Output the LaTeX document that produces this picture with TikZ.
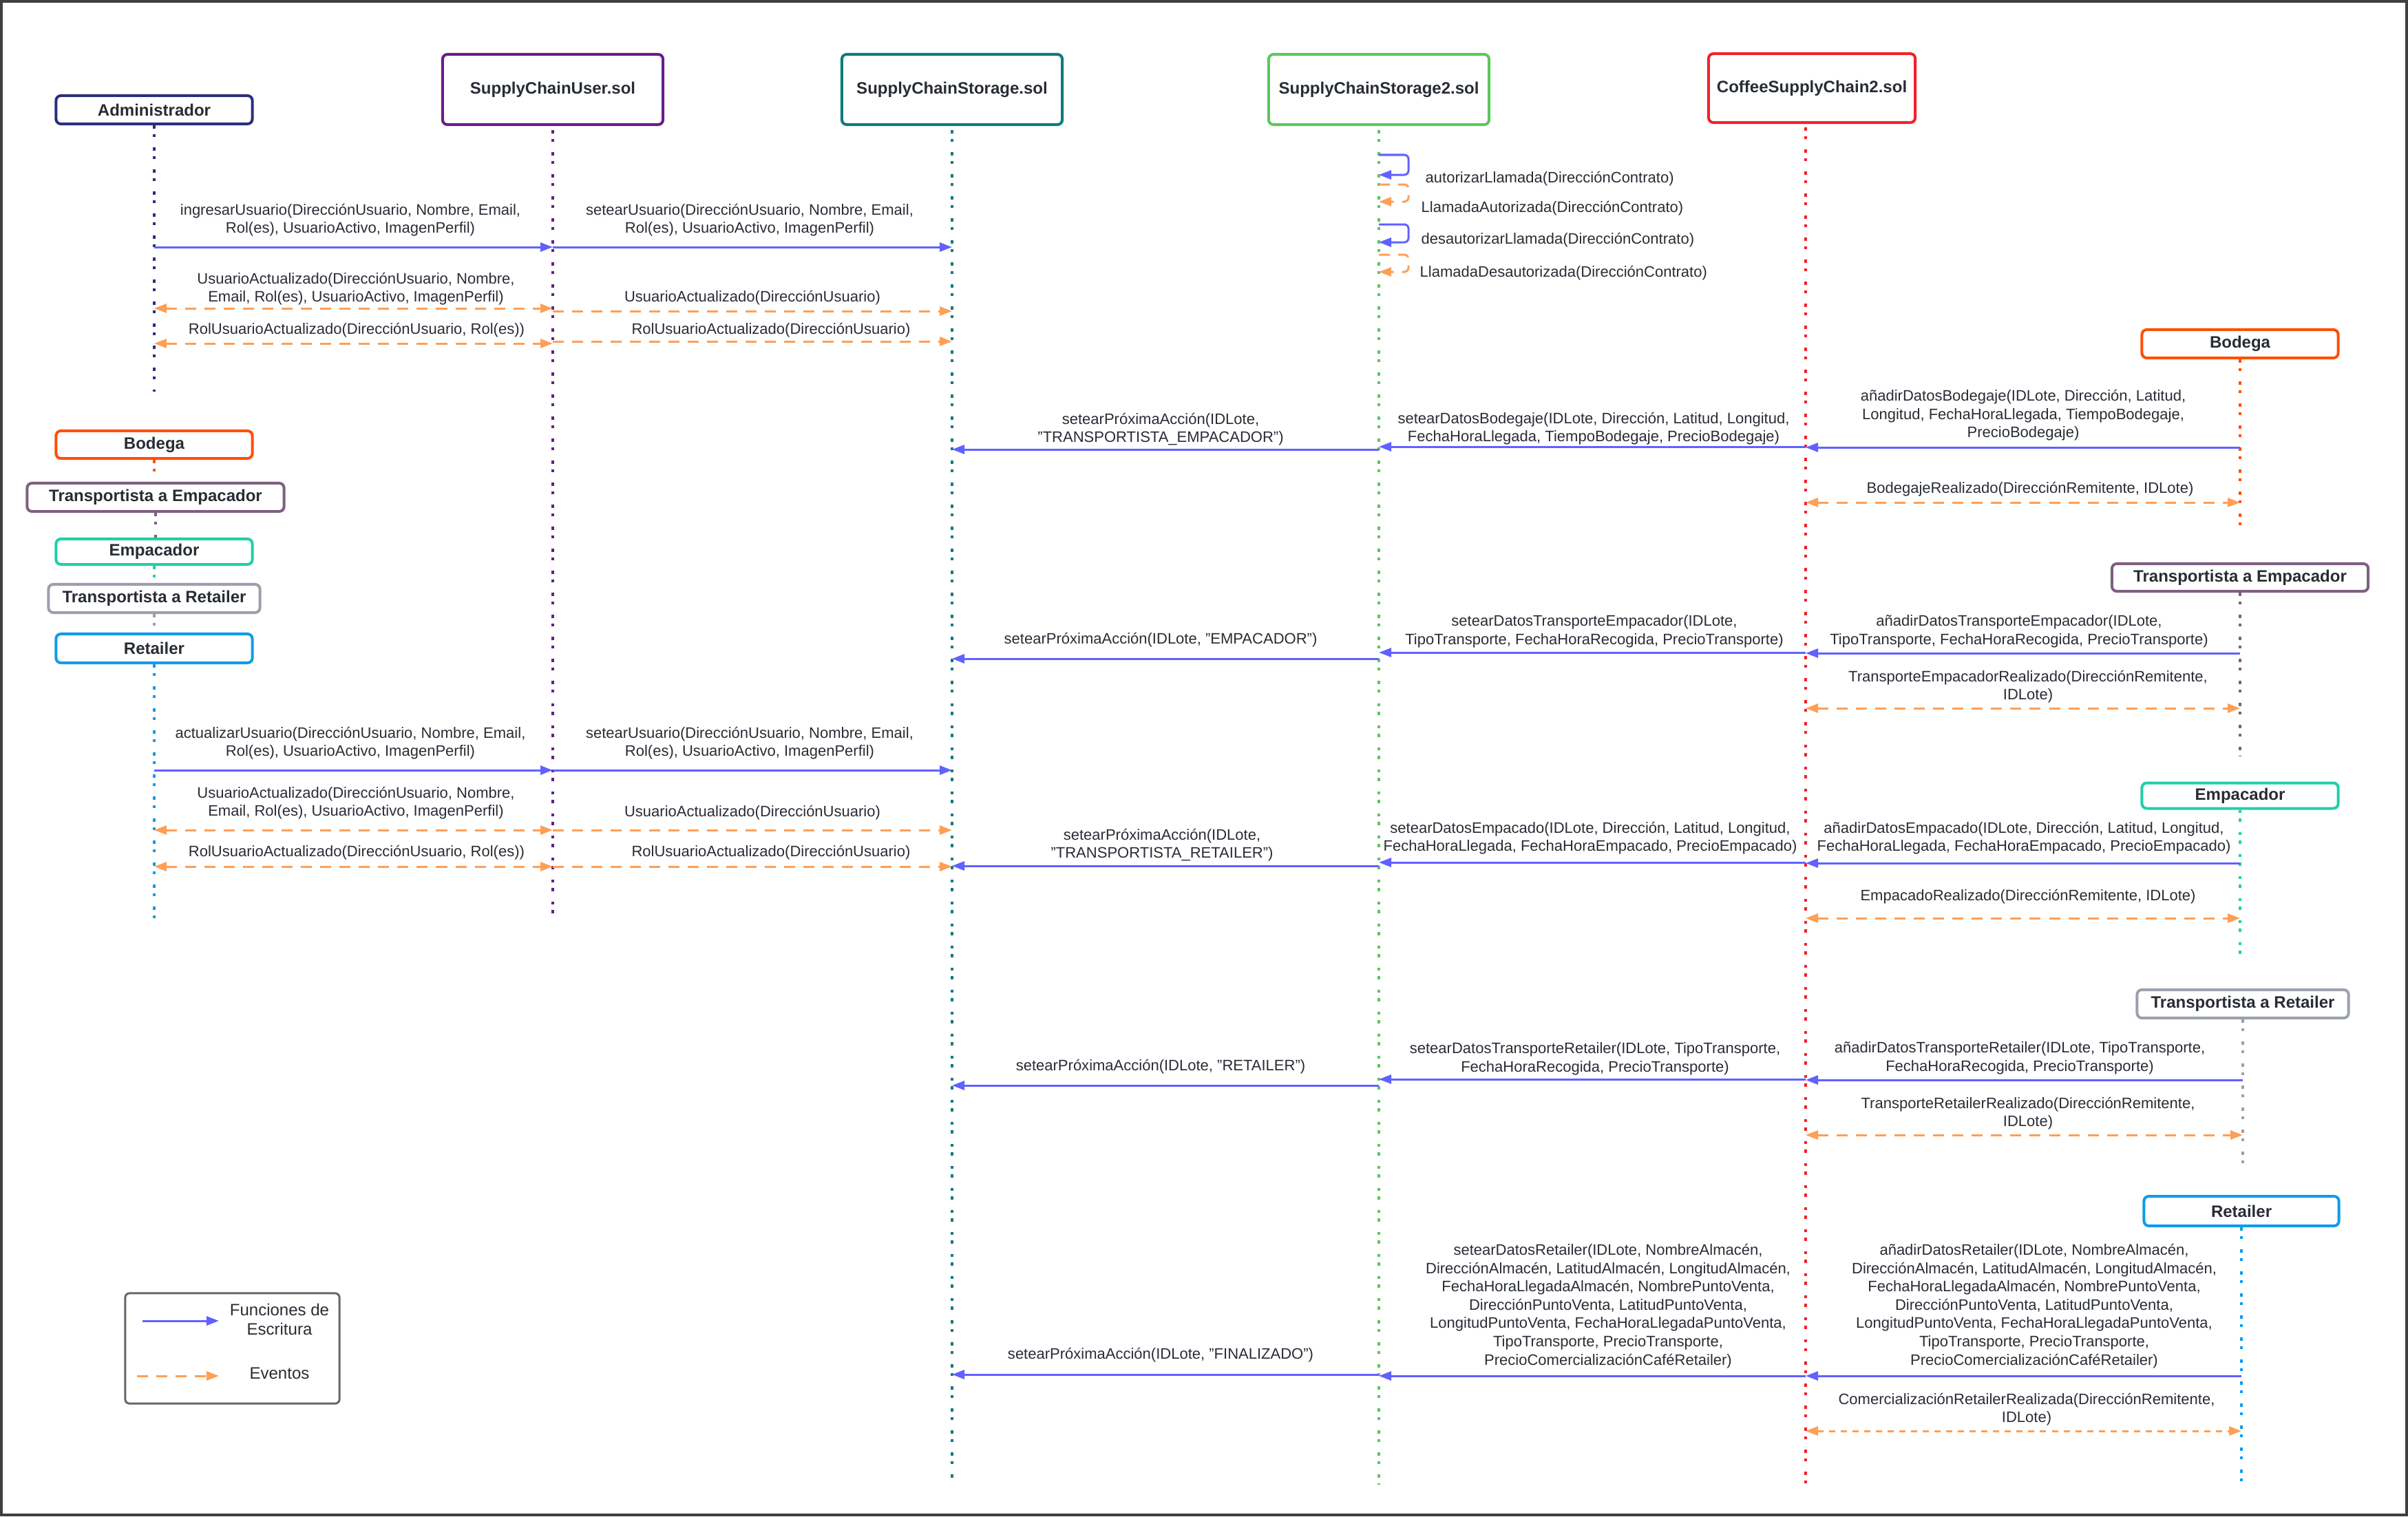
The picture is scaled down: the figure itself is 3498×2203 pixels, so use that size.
\documentclass[tikz,border=0pt]{standalone}
\usepackage{fontspec}
\setmainfont{Liberation Sans}
\usetikzlibrary{arrows.meta}
\definecolor{txt}{HTML}{282C34}
\definecolor{wblue}{HTML}{6161FF}
\definecolor{eorange}{HTML}{FF9F55}
\definecolor{cAdm}{HTML}{2B2F80}
\definecolor{cUsr}{HTML}{6A1B8A}
\definecolor{cSto}{HTML}{0F7B7B}
\definecolor{cStoB}{HTML}{5BC85B}
\definecolor{cCof}{HTML}{F2212B}
\definecolor{cBod}{HTML}{FF4F05}
\definecolor{cTE}{HTML}{7E6080}
\definecolor{cEmp}{HTML}{20CFA8}
\definecolor{cTR}{HTML}{9BA1AB}
\definecolor{cRet}{HTML}{0E9CE8}
\definecolor{frameC}{HTML}{3F3F3F}
\definecolor{legC}{HTML}{666666}
\newcommand\lblfont{\fontsize{6.26pt}{7.55pt}\selectfont}
\newcommand\hdrfont{\fontsize{6.83pt}{8pt}\selectfont\bfseries}
\newcommand\legfont{\fontsize{6.83pt}{7.97pt}\selectfont}
\tikzset{
  lbl/.style={font=\lblfont, text=txt, align=center, inner sep=0pt, yshift=-0.025cm},
  actor/.style={draw=#1, line width=0.04cm, rounded corners=0.07cm, fill=white, inner sep=0pt, font=\hdrfont, text=txt},
  life/.style={draw=#1, line width=0.035cm, dash pattern=on 0.045cm off 0.08cm on 0.045cm off 0.15cm},
  tipA/.tip={Triangle[length=0.18cm,width=0.13cm]},
  wmsg/.style={draw=wblue, line width=0.03cm, -tipA},
  emsg/.style={draw=eorange, line width=0.03cm, dash pattern=on 0.16cm off 0.12cm, -tipA},
  emsgtwo/.style={draw=eorange, line width=0.03cm, dash pattern=on 0.16cm off 0.12cm, tipA-tipA},
  loopw/.style={wmsg, rounded corners=0.06cm},
  loope/.style={emsg, rounded corners=0.06cm},
}
\begin{document}
\begin{tikzpicture}[x=0.01cm,y=-0.01cm]
\useasboundingbox (0,0) rectangle (3498,2203);
\draw[frameC, line width=0.035cm] (2,2) rectangle (3496,2201);

% ---------- actor boxes ----------
\node[actor=cAdm, minimum width=2.85cm, minimum height=0.41cm] (adm) at (224,159.5) {Administrador};
\node[actor=cUsr, minimum width=3.2cm, minimum height=1.02cm] (usr) at (803,130) {SupplyChainUser.sol};
\node[actor=cSto, minimum width=3.2cm, minimum height=1.02cm] (sto) at (1383,130) {SupplyChainStorage.sol};
\node[actor=cStoB, minimum width=3.2cm, minimum height=1.02cm] (stob) at (2003,130) {SupplyChainStorage2.sol};
\node[actor=cCof, minimum width=3.0cm, minimum height=1.0cm] (cof) at (2632,128) {CoffeeSupplyChain2.sol};
\coordinate (cofL) at (2623,185);

\node[actor=cBod, minimum width=2.85cm, minimum height=0.40cm] (bodL) at (224,646) {Bodega};
\node[actor=cTE, minimum width=3.73cm, minimum height=0.41cm] (teL) at (226,722.5) {Transportista a Empacador};
\node[actor=cEmp, minimum width=2.85cm, minimum height=0.37cm] (empL) at (224,801.5) {Empacador};
\node[actor=cTR, minimum width=3.07cm, minimum height=0.41cm] (trL) at (224,869.5) {Transportista a Retailer};
\node[actor=cRet, minimum width=2.85cm, minimum height=0.42cm] (retL) at (224,942) {Retailer};

\node[actor=cBod, minimum width=2.85cm, minimum height=0.41cm] (bodR) at (3254,499.5) {Bodega};
\node[actor=cTE, minimum width=3.72cm, minimum height=0.40cm] (teR) at (3254,839) {Transportista a Empacador};
\node[actor=cEmp, minimum width=2.85cm, minimum height=0.37cm] (empR) at (3254,1156) {Empacador};
\node[actor=cTR, minimum width=3.07cm, minimum height=0.41cm] (trR) at (3258,1458.5) {Transportista a Retailer};
\node[actor=cRet, minimum width=2.83cm, minimum height=0.43cm] (retR) at (3256,1759.5) {Retailer};

% ---------- lifeline ends ----------
\coordinate (admE) at (224,569);
\coordinate (usrE) at (803,1330);
\coordinate (stoE) at (1383,2148);
\coordinate (stobE) at (2003,2157);
\coordinate (cofE) at (2623,2157);
\coordinate (retLE) at (224,1336);
\coordinate (bodRE) at (3254,768);
\coordinate (teRE) at (3254,1098);
\coordinate (empRE) at (3254,1388);
\coordinate (trRE) at (3258,1700);
\coordinate (retRE) at (3256,2158);

\draw[life=cAdm] (adm.south) -- (admE);
\draw[life=cUsr] (usr.south) ++(0,6) -- (usrE);
\draw[life=cSto] (sto.south) ++(0,6) -- (stoE);
\draw[life=cStoB] (stob.south) ++(0,6) -- (stobE);
\draw[life=cCof] (cofL) -- (cofE);
\draw[life=cBod] (bodL.south) -- (teL.north -| bodL.south);
\draw[life=cTE] (teL.south) -- (empL.north -| teL.south);
\draw[life=cEmp] (empL.south) -- (trL.north -| empL.south);
\draw[life=cTR] (trL.south) -- (retL.north -| trL.south);
\draw[life=cRet] (retL.south) -- (retLE);
\draw[life=cBod] (bodR.south) -- (bodRE);
\draw[life=cTE] (teR.south) -- (teRE);
\draw[life=cEmp] (empR.south) -- (empRE);
\draw[life=cTR] (trR.south) -- (trRE);
\draw[life=cRet] (retR.south) -- (retRE);

% ---------- user section (top) ----------
\draw[wmsg] (adm |- 0,359) -- (usr |- 0,359);
\draw[wmsg] (usr |- 0,359) -- (sto |- 0,359);
\draw[emsgtwo] (adm |- 0,448) -- (usr |- 0,448);
\draw[emsg] (usr |- 0,452) -- (sto |- 0,452);
\draw[emsgtwo] (adm |- 0,499) -- (usr |- 0,499);
\draw[emsg] (usr |- 0,496) -- (sto |- 0,496);
\node[lbl] (m1) at (509,317) {ingresarUsuario(DirecciónUsuario, Nombre, Email,\\Rol(es), UsuarioActivo, ImagenPerfil)};
\node[lbl] (m2) at (1089,317) {setearUsuario(DirecciónUsuario, Nombre, Email,\\Rol(es), UsuarioActivo, ImagenPerfil)};
\node[lbl] (m3) at (517,417) {UsuarioActualizado(DirecciónUsuario, Nombre,\\Email, Rol(es), UsuarioActivo, ImagenPerfil)};
\node[lbl] (m4) at (1093,430) {UsuarioActualizado(DirecciónUsuario)};
\node[lbl] (m5) at (518,477) {RolUsuarioActualizado(DirecciónUsuario, Rol(es))};
\node[lbl] (m6) at (1120,477) {RolUsuarioActualizado(DirecciónUsuario)};

% ---------- user section (bottom) ----------
\draw[wmsg] (retL |- 0,1119) -- (usr |- 0,1119);
\draw[wmsg] (usr |- 0,1119) -- (sto |- 0,1119);
\draw[emsgtwo] (retL |- 0,1206) -- (usr |- 0,1206);
\draw[emsg] (usr |- 0,1206) -- (sto |- 0,1206);
\draw[emsgtwo] (retL |- 0,1259) -- (usr |- 0,1259);
\draw[emsg] (usr |- 0,1259) -- (sto |- 0,1259);
\node[lbl] (n1) at (509,1077) {actualizarUsuario(DirecciónUsuario, Nombre, Email,\\Rol(es), UsuarioActivo, ImagenPerfil)};
\node[lbl] (n2) at (1089,1077) {setearUsuario(DirecciónUsuario, Nombre, Email,\\Rol(es), UsuarioActivo, ImagenPerfil)};
\node[lbl] (n3) at (517,1164) {UsuarioActualizado(DirecciónUsuario, Nombre,\\Email, Rol(es), UsuarioActivo, ImagenPerfil)};
\node[lbl] (n4) at (1093,1178) {UsuarioActualizado(DirecciónUsuario)};
\node[lbl] (n5) at (518,1236) {RolUsuarioActualizado(DirecciónUsuario, Rol(es))};
\node[lbl] (n6) at (1120,1236) {RolUsuarioActualizado(DirecciónUsuario)};

% ---------- self messages on Storage2 ----------
\draw[loopw] (stob |- 0,225) -- ++(43,0) -- ++(0,29) -- (stob |- 0,254);
\draw[loope] (stob |- 0,268) -- ++(43,0) -- ++(0,25) -- (stob |- 0,293);
\draw[loopw] (stob |- 0,326) -- ++(43,0) -- ++(0,26) -- (stob |- 0,352);
\draw[loope] (stob |- 0,370) -- ++(43,0) -- ++(0,25) -- (stob |- 0,395);
\node[lbl, anchor=west] (s1) at (2070,257) {autorizarLlamada(DirecciónContrato)};
\node[lbl, anchor=west] (s2) at (2064,300) {LlamadaAutorizada(DirecciónContrato)};
\node[lbl, anchor=west] (s3) at (2064,346) {desautorizarLlamada(DirecciónContrato)};
\node[lbl, anchor=west] (s4) at (2062,394) {LlamadaDesautorizada(DirecciónContrato)};

% ---------- Bodega ----------
\draw[wmsg] (bodR |- 0,650) -- (cofL |- 0,650);
\draw[wmsg] (cofL |- 0,649) -- (stob |- 0,649);
\draw[wmsg] (stob |- 0,653) -- (sto |- 0,653);
\draw[emsgtwo] (cofL |- 0,730) -- (bodR |- 0,730);
\node[lbl] (b1) at (2939,601) {añadirDatosBodegaje(IDLote, Dirección, Latitud,\\Longitud, FechaHoraLlegada, TiempoBodegaje,\\PrecioBodegaje)};
\node[lbl] (b2) at (2315,620) {setearDatosBodegaje(IDLote, Dirección, Latitud, Longitud,\\FechaHoraLlegada, TiempoBodegaje, PrecioBodegaje)};
\node[lbl] (b3) at (1686,621) {setearPróximaAcción(IDLote,\\"TRANSPORTISTA\_EMPACADOR")};
\node[lbl] (b4) at (2949,708) {BodegajeRealizado(DirecciónRemitente, IDLote)};

% ---------- Transportista a Empacador ----------
\draw[wmsg] (teR |- 0,949) -- (cofL |- 0,949);
\draw[wmsg] (cofL |- 0,948) -- (stob |- 0,948);
\draw[wmsg] (stob |- 0,957) -- (sto |- 0,957);
\draw[emsgtwo] (cofL |- 0,1029) -- (teR |- 0,1029);
\node[lbl] (t1) at (2933,915) {añadirDatosTransporteEmpacador(IDLote,\\TipoTransporte, FechaHoraRecogida, PrecioTransporte)};
\node[lbl] (t2) at (2316,915) {setearDatosTransporteEmpacador(IDLote,\\TipoTransporte, FechaHoraRecogida, PrecioTransporte)};
\node[lbl] (t3) at (1686,927) {setearPróximaAcción(IDLote, "EMPACADOR")};
\node[lbl] (t4) at (2946,995) {TransporteEmpacadorRealizado(DirecciónRemitente,\\IDLote)};

% ---------- Empacador ----------
\draw[wmsg] (empR |- 0,1254) -- (cofL |- 0,1254);
\draw[wmsg] (cofL |- 0,1253) -- (stob |- 0,1253);
\draw[wmsg] (stob |- 0,1258) -- (sto |- 0,1258);
\draw[emsgtwo] (cofL |- 0,1334) -- (empR |- 0,1334);
\node[lbl] (e1) at (2940,1215) {añadirDatosEmpacado(IDLote, Dirección, Latitud, Longitud,\\FechaHoraLlegada, FechaHoraEmpacado, PrecioEmpacado)};
\node[lbl] (e2) at (2310,1215) {setearDatosEmpacado(IDLote, Dirección, Latitud, Longitud,\\FechaHoraLlegada, FechaHoraEmpacado, PrecioEmpacado)};
\node[lbl] (e3) at (1688,1225) {setearPróximaAcción(IDLote,\\"TRANSPORTISTA\_RETAILER")};
\node[lbl] (e4) at (2946,1300) {EmpacadoRealizado(DirecciónRemitente, IDLote)};

% ---------- Transportista a Retailer ----------
\draw[wmsg] (trR |- 0,1569) -- (cofL |- 0,1569);
\draw[wmsg] (cofL |- 0,1568) -- (stob |- 0,1568);
\draw[wmsg] (stob |- 0,1577) -- (sto |- 0,1577);
\draw[emsgtwo] (cofL |- 0,1649) -- (trR |- 0,1649);
\node[lbl] (r1) at (2934,1535) {añadirDatosTransporteRetailer(IDLote, TipoTransporte,\\FechaHoraRecogida, PrecioTransporte)};
\node[lbl] (r2) at (2317,1536) {setearDatosTransporteRetailer(IDLote, TipoTransporte,\\FechaHoraRecogida, PrecioTransporte)};
\node[lbl] (r3) at (1686,1547) {setearPróximaAcción(IDLote, "RETAILER")};
\node[lbl] (r4) at (2946,1615) {TransporteRetailerRealizado(DirecciónRemitente,\\IDLote)};

% ---------- Retailer ----------
\draw[wmsg] (retR |- 0,1999) -- (cofL |- 0,1999);
\draw[wmsg] (cofL |- 0,1999) -- (stob |- 0,1999);
\draw[wmsg] (stob |- 0,1997) -- (sto |- 0,1997);
\draw[emsgtwo, dash pattern=on 0.09cm off 0.08cm] (cofL |- 0,2079) -- (retR |- 0,2079);
\node[lbl] (k1) at (2955,1895) {añadirDatosRetailer(IDLote, NombreAlmacén,\\DirecciónAlmacén, LatitudAlmacén, LongitudAlmacén,\\FechaHoraLlegadaAlmacén, NombrePuntoVenta,\\DirecciónPuntoVenta, LatitudPuntoVenta,\\LongitudPuntoVenta, FechaHoraLlegadaPuntoVenta,\\TipoTransporte, PrecioTransporte,\\PrecioComercializaciónCaféRetailer)};
\node[lbl] (k2) at (2336,1895) {setearDatosRetailer(IDLote, NombreAlmacén,\\DirecciónAlmacén, LatitudAlmacén, LongitudAlmacén,\\FechaHoraLlegadaAlmacén, NombrePuntoVenta,\\DirecciónPuntoVenta, LatitudPuntoVenta,\\LongitudPuntoVenta, FechaHoraLlegadaPuntoVenta,\\TipoTransporte, PrecioTransporte,\\PrecioComercializaciónCaféRetailer)};
\node[lbl] (k3) at (1686,1966) {setearPróximaAcción(IDLote, "FINALIZADO")};
\node[lbl] (k4) at (2944,2045) {ComercializaciónRetailerRealizada(DirecciónRemitente,\\IDLote)};

% ---------- legend ----------
\node[draw=legC, line width=0.03cm, rounded corners=0.06cm, minimum width=3.11cm, minimum height=1.6cm, inner sep=0pt] (leg) at (337.5,1959) {};
\coordinate (lw1) at (207,1919);
\coordinate (lw2) at (318,1919);
\coordinate (le1) at (199,1999);
\coordinate (le2) at (318,1999);
\draw[wmsg] (lw1) -- (lw2);
\draw[emsg] (le1) -- (le2);
\node[font=\legfont, text=txt, align=center, inner sep=0pt] (lt1) at (406,1917) {Funciones de\\Escritura};
\node[font=\legfont, text=txt, align=center, inner sep=0pt] (lt2) at (406,1995) {Eventos};
\end{tikzpicture}
\end{document}
